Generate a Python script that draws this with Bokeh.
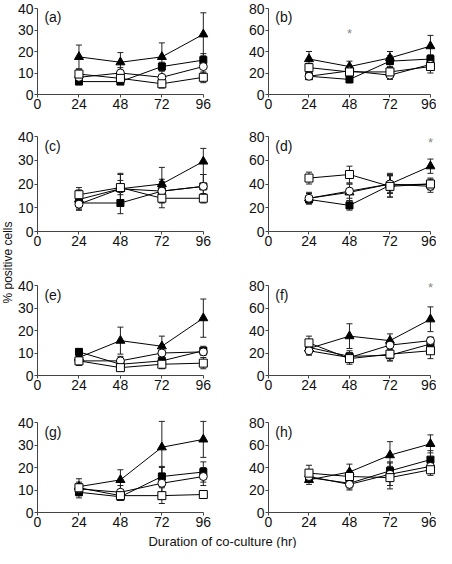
import math
from bokeh.plotting import figure
from bokeh.models import ColumnDataSource, Whisker, TeeHead, FixedTicker, Label
from bokeh.layouts import column, row
from bokeh.embed import file_html
from bokeh.resources import INLINE
from bokeh.core.properties import value

FONT = "Liberation Sans"

hours = [24, 48, 72, 96]
x_ticks = [0, 24, 48, 72, 96]
y_ticks_40 = [0, 10, 20, 30, 40]
y_ticks_80 = [0, 20, 40, 60, 80]

# (a)
a_tri = [17.5, 15, 17.5, 28];   a_tri_err = [5.5, 4.5, 6.5, 10]
a_fsq = [6, 6, 13, 16];         a_fsq_err = [1, 1, 2, 3]
a_oc = [8, 10, 8, 13];          a_oc_err = [3, 2.5, 3, 3]
a_osq = [9.5, 7.5, 5, 8];       a_osq_err = [2, 1.5, 2, 2.5]
# (b)
b_tri = [33, 26, 34, 45];       b_tri_err = [7, 5, 6, 10]
b_fsq = [17, 14, 31, 33];       b_fsq_err = [3, 3, 5, 4]
b_oc = [17, 22, 18, 28];        b_oc_err = [3, 4, 4, 5]
b_osq = [25, 21, 21, 26];       b_osq_err = [4, 3, 4, 6]
# (c)
c_tri = [13.5, 18, 20, 29.5];   c_tri_err = [4, 6.5, 7, 5.5]
c_fsq = [12, 12, 17, 19];       c_fsq_err = [3, 4.5, 5, 5]
c_oc = [11.5, 18, 17, 19];      c_oc_err = [2.5, 6, 4, 5]
c_osq = [15.5, 18.5, 14, 14];   c_osq_err = [3, 3, 4, 2]
# (d)
d_tri = [28, 33, 40, 55];       d_tri_err = [5, 7, 7, 6]
d_fsq = [27, 22, 39, 40];       d_fsq_err = [3, 4, 10, 5]
d_oc = [28, 34, 40, 38];        d_oc_err = [4, 6, 8, 5]
d_osq = [45, 48, 38, 40];       d_osq_err = [5, 7, 9, 4]
# (e)
e_tri = [8, 15.5, 13, 25.5];    e_tri_err = [2, 6, 4.5, 8.5]
e_fsq = [10.5, 5, 6.5, 11];     e_fsq_err = [1.5, 1.5, 2, 2]
e_oc = [6.5, 6.5, 10, 10.5];    e_oc_err = [2, 2, 3, 1.5]
e_osq = [6.5, 3.5, 5, 5.5];     e_osq_err = [2, 1, 2, 2.5]
# (f)
f_tri = [24, 35, 31, 50];       f_tri_err = [6, 11, 6, 11]
f_fsq = [25, 17, 18, 28];       f_fsq_err = [5, 5, 5, 6]
f_oc = [22, 16, 27, 31];        f_oc_err = [3, 4, 5, 3]
f_osq = [29, 15, 19, 22];       f_osq_err = [6, 5, 6, 7]
# (g)
g_tri = [11.5, 14.5, 29, 32.5]; g_tri_err = [3.5, 4.5, 11.5, 8]
g_fsq = [9, 7, 16, 18];         g_fsq_err = [2.5, 1.5, 4.5, 4.5]
g_oc = [10.5, 9, 13, 16];       g_oc_err = [3, 3, 7, 4]
g_osq = [11, 7.5, 7.5, 8];      g_osq_err = [2, 1.5, 3.5, 1]
# (h)
h_tri = [29, 36, 51, 61];       h_tri_err = [4, 7, 12, 8]
h_fsq = [31, 26, 37, 47];       h_fsq_err = [3, 5, 8, 8]
h_oc = [32, 25, 34, 41];        h_oc_err = [3, 5, 10, 5]
h_osq = [35, 32, 31, 38];       h_osq_err = [7, 5, 10, 5]

star_panel = ["b", "d", "f"]
star_x = [48, 96, 96]
star_y = [57, 75, 78]

panels = [
    ("a", 40, [(a_tri, a_tri_err), (a_fsq, a_fsq_err), (a_oc, a_oc_err), (a_osq, a_osq_err)]),
    ("b", 80, [(b_tri, b_tri_err), (b_fsq, b_fsq_err), (b_oc, b_oc_err), (b_osq, b_osq_err)]),
    ("c", 40, [(c_tri, c_tri_err), (c_fsq, c_fsq_err), (c_oc, c_oc_err), (c_osq, c_osq_err)]),
    ("d", 80, [(d_tri, d_tri_err), (d_fsq, d_fsq_err), (d_oc, d_oc_err), (d_osq, d_osq_err)]),
    ("e", 40, [(e_tri, e_tri_err), (e_fsq, e_fsq_err), (e_oc, e_oc_err), (e_osq, e_osq_err)]),
    ("f", 80, [(f_tri, f_tri_err), (f_fsq, f_fsq_err), (f_oc, f_oc_err), (f_osq, f_osq_err)]),
    ("g", 40, [(g_tri, g_tri_err), (g_fsq, g_fsq_err), (g_oc, g_oc_err), (g_osq, g_osq_err)]),
    ("h", 80, [(h_tri, h_tri_err), (h_fsq, h_fsq_err), (h_oc, h_oc_err), (h_osq, h_osq_err)]),
]

# marker styles: (marker, size, fill)
STYLES = [("triangle", 9, "black"), ("square", 7, "black"), ("circle", 8, "white"), ("square", 8, "white")]

# row layout: fig_top, fig_bottom, top tick px, zero px (content coords)
ROWS = [(0, 118, 8, 94), (118, 256, 136, 231), (256, 400, 285, 375), (400, 533, 422, 512)]
COLS = [dict(width=198, bl=19, br=4), dict(width=224, bl=56, br=1)]


def make_panel(idx, label, ymax, series):
    r, c = divmod(idx, 2)
    ftop, fbot, ttop, zero = ROWS[r]
    frame_top = ttop - 3
    frame_h = zero - frame_top
    y_end = ymax * frame_h / (zero - ttop)
    col = COLS[c]
    p = figure(width=col["width"], height=fbot - ftop, x_range=(0, 99), y_range=(0, y_end),
               toolbar_location=None, output_backend="svg", title=None,
               min_border_left=col["bl"], min_border_right=col["br"],
               min_border_top=frame_top - ftop, min_border_bottom=fbot - zero)
    p.outline_line_color = None
    p.xgrid.visible = False
    p.ygrid.visible = False
    p.background_fill_color = "white"
    p.border_fill_color = "white"
    for ax, ticks, bounds in ((p.xaxis[0], x_ticks, (0, 96)),
                              (p.yaxis[0], y_ticks_40 if ymax == 40 else y_ticks_80, (0, ymax))):
        ax.ticker = FixedTicker(ticks=ticks)
        ax.bounds = bounds
        ax.axis_line_color = "#444444"
        ax.major_tick_line_color = "#444444"
        ax.major_tick_out = 3
        ax.major_tick_in = 0
        ax.minor_tick_line_color = None
        ax.major_label_standoff = 1
        ax.major_label_text_font = FONT
        ax.major_label_text_font_size = "14px"
        ax.major_label_text_color = "#111111"
    for (vals, errs), (mk, sz, fill) in zip(series, STYLES):
        src = ColumnDataSource(dict(x=hours, y=vals,
                                    upper=[v + e for v, e in zip(vals, errs)],
                                    lower=[v - e for v, e in zip(vals, errs)]))
        w = Whisker(source=src, base="x", upper="upper", lower="lower", dimension="height",
                    line_color="#222222", line_width=1, level="underlay",
                    upper_head=TeeHead(size=6, line_color="#222222", line_width=1),
                    lower_head=TeeHead(size=6, line_color="#222222", line_width=1))
        p.add_layout(w)
        p.line("x", "y", source=src, line_color="black", line_width=1)
    for (vals, errs), (mk, sz, fill) in zip(series, STYLES):
        p.scatter(hours, vals, marker=mk, size=sz, fill_color=fill, line_color="black", line_width=1)
    p.add_layout(Label(x=4, y=0.9 * ymax, text="(" + label + ")", text_font=FONT,
                       text_font_size="14px", text_baseline="middle", text_color="#111111"))
    sx = [x for pn, x in zip(star_panel, star_x) if pn == label]
    sy = [y for pn, y in zip(star_panel, star_y) if pn == label]
    if sx:
        p.text(x=sx, y=sy, text=["*"] * len(sx), text_color="#888888", text_font_size="13px",
               text_align="center", text_baseline="middle", text_font=value(FONT))
    return p


figs = [make_panel(i, lab, ym, ser) for i, (lab, ym, ser) in enumerate(panels)]

grid = column(row(figs[0], figs[1]), row(figs[2], figs[3]),
              row(figs[4], figs[5]), row(figs[6], figs[7]))

ylab = figure(width=14, height=533, x_range=(0, 14), y_range=(0, 533), toolbar_location=None,
              output_backend="svg", title=None, x_axis_type=None, y_axis_type=None,
              min_border=0)
ylab.outline_line_color = None
ylab.grid.visible = False
ylab.text(x=[7], y=[271], text=["% positive cells"], angle=math.pi / 2, text_align="center",
          text_baseline="middle", text_font=value(FONT), text_font_size="12px", text_color="#111111")

xlab = figure(width=436, height=15, x_range=(0, 436), y_range=(0, 15), toolbar_location=None,
              output_backend="svg", title=None, x_axis_type=None, y_axis_type=None,
              min_border=0)
xlab.outline_line_color = None
xlab.grid.visible = False
xlab.text(x=[222], y=[7.5], text=["Duration of co-culture (hr)"], text_align="center",
          text_baseline="middle", text_font=value(FONT), text_font_size="13px", text_color="#111111")

layout = column(row(ylab, grid), xlab)
open("out.html", "w").write(file_html(layout, INLINE))
